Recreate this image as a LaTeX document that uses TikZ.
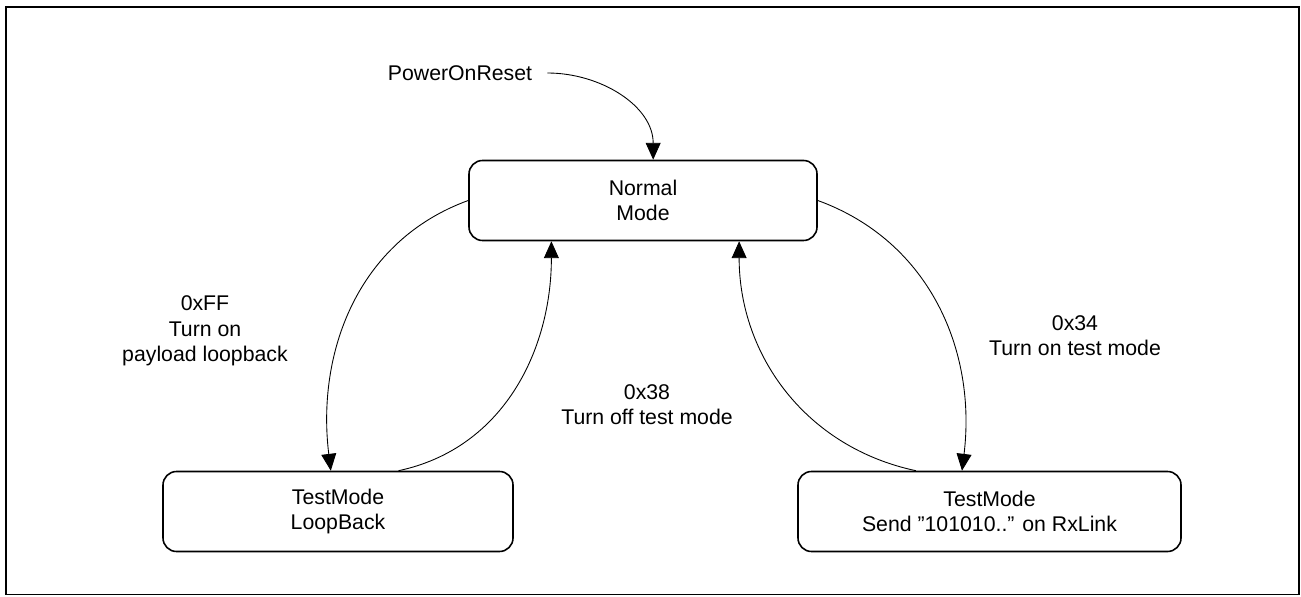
\documentclass[tikz,border=0pt]{standalone}
\usepackage{fontspec}
\setmainfont{Liberation Sans}
\usetikzlibrary{positioning, arrows.meta, calc}

\begin{document}
\begin{tikzpicture}[
    state/.style={draw, line width=0.9pt, rounded corners=0.27cm, minimum height=1.6cm, align=center, inner sep=0pt},
    trans/.style={line width=0.5pt, -{Triangle[length=9.6pt, width=8.5pt]}},
    lbl/.style={align=center, inner sep=0pt},
    every node/.style={font=\fontsize{12.1}{14.4}\selectfont}
]

    % Frame
    \useasboundingbox (0, 0) rectangle (26.02, 11.92);
    \draw[line width=1.1pt] (0.12, 0.03) rectangle (25.98, 11.78);

    % States
    \node[state, minimum width=6.96cm] (normal) at (12.86, 7.91) {Normal\\Mode};
    \node[state, minimum width=7.0cm] (loopback) at (6.76, 1.69) {TestMode\\LoopBack};
    \node[state, minimum width=7.66cm] (sendlink) at (19.79, 1.69) {TestMode\\Send ”101010..” on RxLink};

    % Reset entry
    \node[inner xsep=0.3cm] (por) at (9.2, 10.46) {PowerOnReset};
    \draw[trans] (por.east) to[out=0, in=90] (normal.76);

    % Transitions
    \draw[trans] (normal.west) to[out=200, in=97] (loopback.100);
    \draw[trans] (loopback.34) to[out=12, in=270] (normal.204);
    \draw[trans] (normal.east) to[out=-20, in=83] (sendlink.124);
    \draw[trans] (sendlink.151) to[out=168, in=270] (normal.337);

    % Transition labels
    \node[lbl] (lblff) at (4.10, 5.30) {0xFF\\Turn on\\payload loopback};
    \node[lbl] (lbl38) at (12.94, 3.83) {0x38\\Turn off test mode};
    \node[lbl] (lbl34) at (21.5, 5.2) {0x34\\Turn on test mode};

\end{tikzpicture}
\end{document}
